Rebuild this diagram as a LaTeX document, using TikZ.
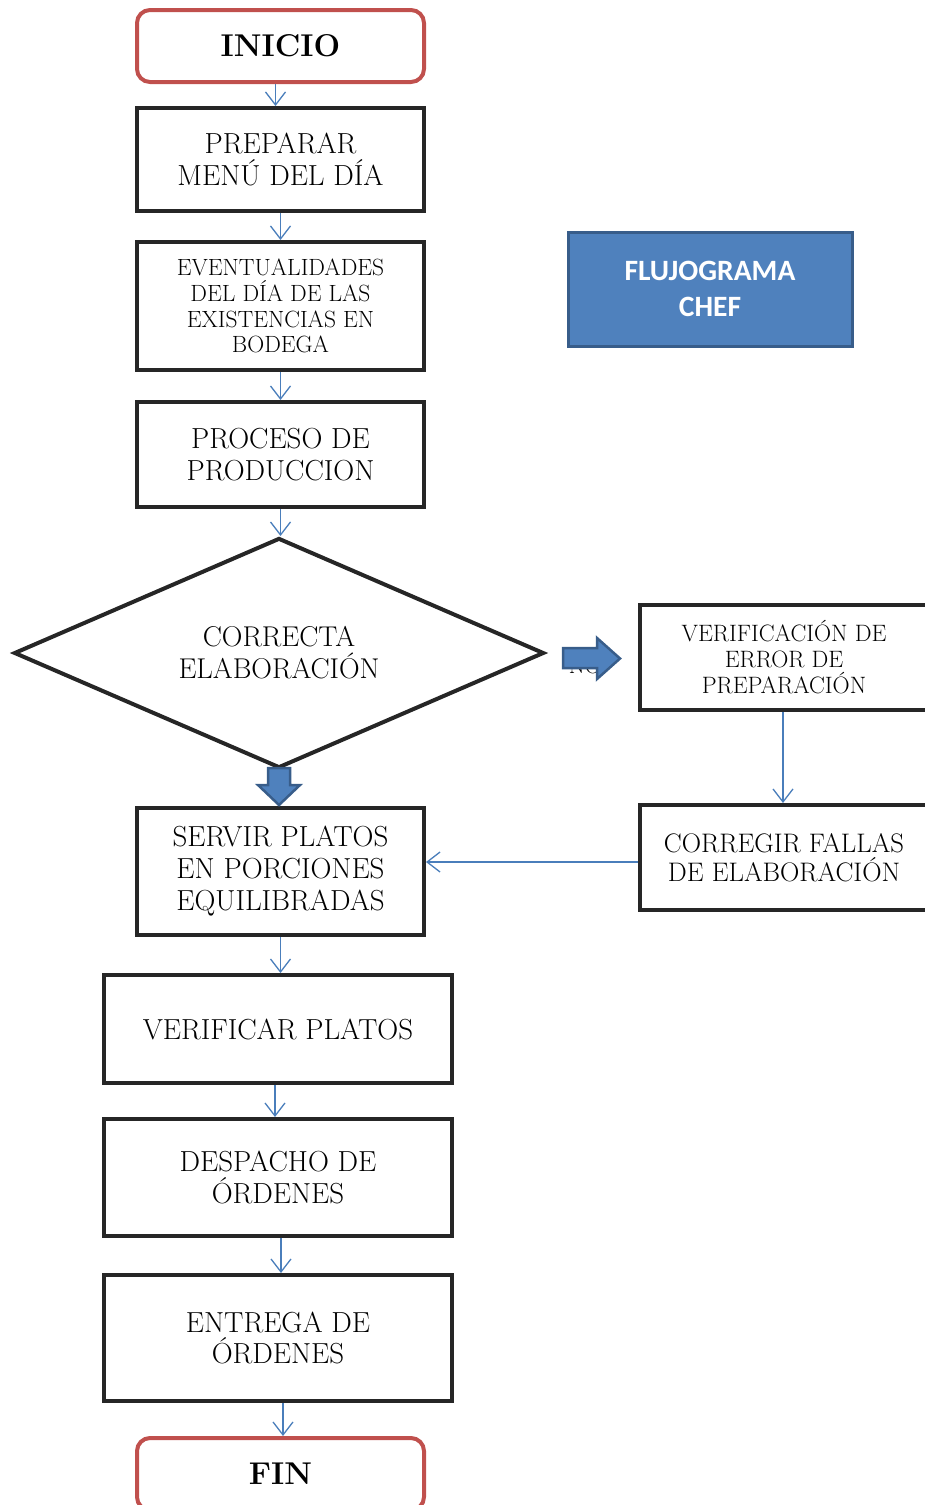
\documentclass[tikz,border=0pt]{standalone}
\usepackage{fontspec}
\newfontfamily\calib{Carlito}
\usetikzlibrary{arrows.meta,shapes.geometric,calc}
\definecolor{termred}{HTML}{C0504D}
\definecolor{boxblack}{HTML}{262626}
\definecolor{connblue}{HTML}{4A7EBB}
\definecolor{fillblue}{HTML}{4F81BD}
\definecolor{edgeblue}{HTML}{385D8A}
\tikzset{
  conn/.style={draw=connblue, line width=1.3pt, -{Straight Barb[length=13pt,width=20pt]}},
  procbox/.style={draw=boxblack, line width=4pt, align=center, inner sep=0pt,
     font=\fontsize{29}{31.5}\selectfont},
  smallbox/.style={procbox, font=\fontsize{23.5}{25.8}\selectfont},
  term/.style={draw=termred, line width=4pt, rounded corners=13pt, inner sep=0pt,
     minimum width=287pt, minimum height=72pt, font=\fontsize{31.5}{36}\selectfont\bfseries},
  blockarrow/.style={fill=fillblue, draw=edgeblue, line width=2.5pt, line join=miter},
}
\begin{document}
\begin{tikzpicture}[x=1pt,y=-1pt]
\useasboundingbox (0,0) rectangle (924,1505);
% title
\node[fill=fillblue, draw=edgeblue, line width=3pt, minimum width=284pt, minimum height=114pt,
  align=center, text=white, font=\calib\fontsize{29.5}{36}\selectfont\bfseries] (title) at (710,289) {FLUJOGRAMA\\CHEF};
% main column
\node[term] (inicio) at (280.5,46) {INICIO};
\node[procbox, minimum width=287pt, minimum height=103pt] (prep) at (280.5,159.5) {PREPARAR\\MENÚ DEL DÍA};
\node[smallbox, minimum width=287pt, minimum height=128pt] (event) at (280.5,306) {EVENTUALIDADES\\DEL DÍA DE LAS\\EXISTENCIAS EN\\BODEGA};
\node[procbox, font=\fontsize{29}{32}\selectfont, minimum width=287pt, minimum height=105pt] (proc) at (280.5,454.5) {PROCESO DE\\PRODUCCION};
\node[draw=boxblack, line width=4pt, diamond, inner sep=0pt, shape aspect=2.3,
  minimum width=530pt, minimum height=230pt] (dec) at (279,653) {};
\node[align=center, font=\fontsize{28.6}{32}\selectfont] (dectext) at (dec.center) {CORRECTA\\ELABORACIÓN};
\node[procbox, font=\fontsize{29}{32}\selectfont, minimum width=287pt, minimum height=127pt] (servir) at (280.5,871.5) {SERVIR PLATOS\\EN PORCIONES\\EQUILIBRADAS};
\node[procbox, minimum width=348pt, minimum height=108pt] (verif) at (278,1029) {VERIFICAR PLATOS};
\node[procbox, minimum width=348pt, minimum height=117pt] (desp) at (278,1177.5) {DESPACHO DE\\ÓRDENES};
\node[procbox, minimum width=348pt, minimum height=126pt] (entr) at (278,1338) {ENTREGA DE\\ÓRDENES};
\node[term] (fin) at (280.5,1474) {FIN};
% right column
\node[smallbox, font=\fontsize{23.7}{26}\selectfont, minimum width=288pt, minimum height=105pt] (verr) at (784,657.5) {VERIFICACIÓN DE\\ERROR DE\\PREPARACIÓN};
\node[procbox, font=\fontsize{26.8}{29}\selectfont, minimum width=288pt, minimum height=105pt] (corr) at (784,857.5) {CORREGIR FALLAS\\DE ELABORACIÓN};
% NO label (mostly hidden by block arrow)
\node[font=\fontsize{23}{25}\selectfont] (no) at (585,666) {NO};
% block arrows
\draw[blockarrow] (563,648) -- (597,648) -- (597,638) -- (620,658.5) -- (597,679) -- (597,668) -- (563,668) -- cycle;
\draw[blockarrow] (268,768) -- (290,768) -- (290,785) -- (300,785) -- (279,805) -- (258,785) -- (268,785) -- cycle;
% connectors
\draw[conn] ([xshift=-5pt]inicio.south) -- ([xshift=-5pt]prep.north);
\draw[conn] (prep) -- (event);
\draw[conn] (event) -- (proc);
\draw[conn] (proc.south) -- (proc.south |- dec.north);
\draw[conn] (servir.south) -- (servir.south |- verif.north);
\draw[conn] ([xshift=-3pt]verif.south) -- ([xshift=-3pt]desp.north);
\draw[conn] ([xshift=3pt]desp.south) -- ([xshift=3pt]entr.north);
\draw[conn] ([xshift=5pt]entr.south) -- ([xshift=5pt]entr.south |- fin.north);
\draw[conn] ([xshift=-1pt]verr.south) -- ([xshift=-1pt]corr.north);
\draw[conn] ([yshift=-4.5pt]corr.west) -- ([yshift=-4.5pt]corr.west -| servir.east);
\end{tikzpicture}
\end{document}
